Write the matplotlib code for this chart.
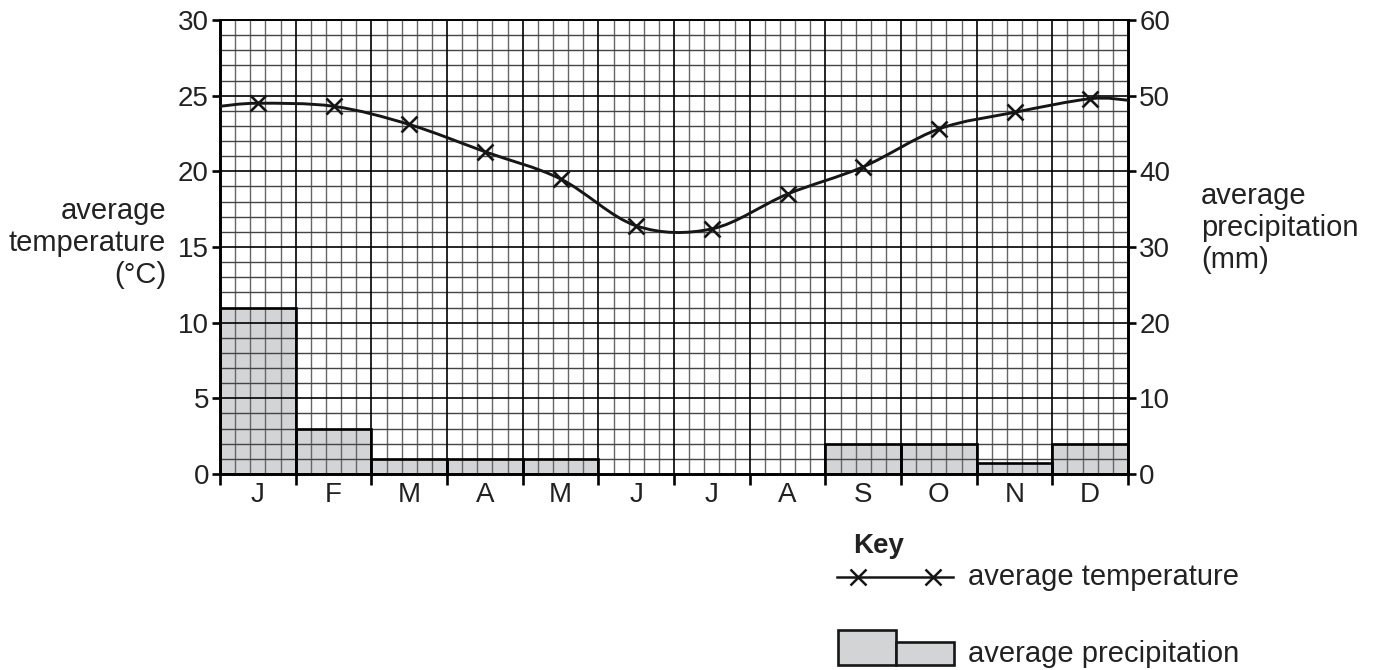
import numpy as np
import matplotlib.pyplot as plt
from matplotlib.path import Path
from matplotlib.patches import PathPatch, Rectangle
from matplotlib.lines import Line2D

plt.rcParams['font.family'] = ['Liberation Sans', 'DejaVu Sans']

months = ['J', 'F', 'M', 'A', 'M', 'J', 'J', 'A', 'S', 'O', 'N', 'D']
temperature = [24.5, 24.3, 23.1, 21.3, 19.5, 16.4, 16.2, 18.5, 20.3, 22.8, 23.9, 24.8]
precipitation = [22, 6, 2, 2, 2, 0, 0, 0, 4, 4, 1.4, 4]
# where the drawn curve meets the left and right edges of the grid
temp_start = 24.3
temp_end = 24.7

centres = np.arange(len(months)) + 0.5

fig = plt.figure(figsize=(13.78, 6.70), dpi=100)
ax_p = fig.add_axes([0.1597, 0.2925, 0.6589, 0.6776])
ax_t = ax_p.twinx()

ax_p.set_xlim(0, 12)
ax_p.set_ylim(0, 60)
ax_t.set_ylim(0, 30)

# bar fill underneath the grid
ax_p.bar(centres, precipitation, width=1.0, color='#d3d4d6', edgecolor='none', zorder=1)

# grid paper
for i in range(1, 60):
    if i % 5:
        ax_t.axvline(i / 5, color='#666666', lw=1.0, zorder=1)
for i in range(1, 12):
    ax_t.axvline(i, color='black', lw=1.2, zorder=1.2)
for v in range(1, 31):
    if v % 5:
        ax_t.axhline(v, color='#444444', lw=1.0, zorder=1)
    else:
        ax_t.axhline(v, color='black', lw=1.2, zorder=1.2)

# bar outlines on top of grid
for c, p in zip(centres, precipitation):
    if p > 0:
        ax_t.add_patch(Rectangle((c - 0.5, 0), 1.0, p, fill=False, edgecolor='black',
                                 lw=1.9, zorder=3, transform=ax_p.transData))

# smooth temperature curve (Catmull-Rom through the readings)
px = np.concatenate([[0], centres, [12]])
py = np.concatenate([[temp_start], temperature, [temp_end]])
pts = np.column_stack([px, py])
verts = [pts[0]]
codes = [Path.MOVETO]
n = len(pts)
for i in range(n - 1):
    p0 = pts[max(i - 1, 0)]
    p1 = pts[i]
    p2 = pts[i + 1]
    p3 = pts[min(i + 2, n - 1)]
    c1 = p1 + (p2 - p0) / 6
    c2 = p2 - (p3 - p1) / 6
    verts += [c1, c2, p2]
    codes += [Path.CURVE4] * 3
ax_t.add_patch(PathPatch(Path(verts, codes), fill=False, edgecolor='#161616', lw=2.1, zorder=4))
ax_t.plot(centres, temperature, linestyle='none', marker='x', markersize=11,
          markeredgewidth=1.9, color='#161616', zorder=5)

# axes / ticks
ax_t.yaxis.tick_left()
ax_p.yaxis.tick_right()
ax_t.set_yticks(range(0, 31, 5))
ax_p.set_yticks(range(0, 61, 10))
ax_p.set_xticks(range(0, 13))
ax_p.set_xticklabels([])
ax_p.set_xticks(centres, minor=True)
ax_p.set_xticklabels(months, minor=True)
ax_p.tick_params(axis='x', which='major', direction='out', length=8, width=1.9)
ax_p.tick_params(axis='x', which='minor', length=0, pad=6, labelsize=20, labelcolor='#222222')
ax_t.tick_params(axis='y', direction='out', length=6, width=1.9, pad=2, labelsize=20,
                 labelcolor='#222222')
ax_p.tick_params(axis='y', direction='out', length=6, width=1.9, pad=2, labelsize=20,
                 labelcolor='#222222')

for a in (ax_p, ax_t):
    for s in ('left', 'right', 'bottom'):
        a.spines[s].set_linewidth(1.9)
    a.spines['top'].set_linewidth(1.2)
ax_t.patch.set_visible(False)

# axis titles
fig.text(166 / 1378, 1 - 243 / 670, 'average\ntemperature\n(°C)', ha='right', va='center',
         fontsize=21, multialignment='right', linespacing=1.18, color='#222222')
fig.text(1201 / 1378, 1 - 228 / 670, 'average\nprecipitation\n(mm)', ha='left', va='center',
         fontsize=21, multialignment='left', linespacing=1.18, color='#222222')

# key
fig.text(879 / 1378, 1 - 546 / 670, 'Key', ha='center', va='center', fontsize=20,
         fontweight='bold', color='#222222')
fig.add_artist(Line2D([837 / 1378, 953 / 1378], [1 - 577 / 670] * 2, color='#161616', lw=1.8,
                      transform=fig.transFigure))
fig.add_artist(Line2D([858 / 1378, 933 / 1378], [1 - 577 / 670] * 2, color='#161616',
                      linestyle='none', marker='x', markersize=11, markeredgewidth=1.8,
                      transform=fig.transFigure))
fig.text(968 / 1378, 1 - 577 / 670, 'average temperature', ha='left', va='center', fontsize=21,
         color='#222222')
fig.add_artist(Rectangle((838 / 1378, 1 - 665 / 670), 58 / 1378, 35 / 670, facecolor='#d3d4d6',
                         edgecolor='#161616', lw=1.9, transform=fig.transFigure))
fig.add_artist(Rectangle((896 / 1378, 1 - 665 / 670), 58 / 1378, 23 / 670, facecolor='#d3d4d6',
                         edgecolor='#161616', lw=1.9, transform=fig.transFigure))
fig.text(968 / 1378, 1 - 654 / 670, 'average precipitation', ha='left', va='center', fontsize=21,
         color='#222222')

fig.savefig('out.png', dpi=100)
